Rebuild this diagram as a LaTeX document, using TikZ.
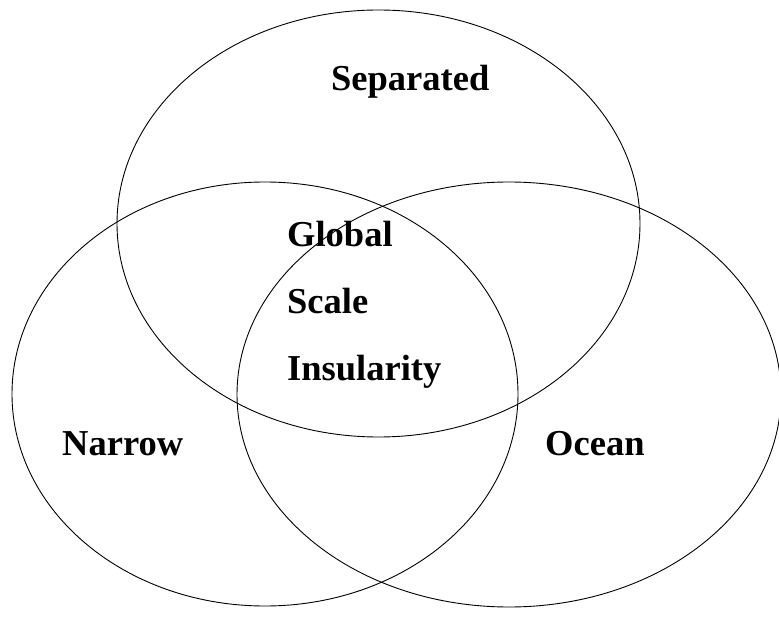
\documentclass[tikz,border=0pt]{standalone}
\usepackage{fontspec}
\setmainfont{Liberation Serif}
\usetikzlibrary{positioning}

\begin{document}
\begin{tikzpicture}[
  x=1pt, y=-1pt,
  set/.style={draw=black, line width=0.9pt},
  label/.style={font=\fontsize{36.5}{42}\selectfont\bfseries, anchor=base west, inner sep=0pt}
]
\useasboundingbox (0,0) rectangle (779,620);

% the three sets
\coordinate (top) at (378.5, 223.5);
\coordinate (left) at (265, 394);
\coordinate (right) at (509, 394.5);
\draw[set] (top) ellipse [x radius=261.5pt, y radius=213.5pt];
\draw[set] (left) ellipse [x radius=253pt, y radius=212pt];
\draw[set] (right) ellipse [x radius=272pt, y radius=212.5pt];

% labels
\node[label] (separated) at (331, 91) {Separated};
\node[label] (global) at (287, 247) {Global};
\node[label] (scale) at (287, 314) {Scale};
\node[label] (insularity) at (287, 380) {Insularity};
\node[label] (narrow) at (62, 455) {Narrow};
\node[label] (ocean) at (545, 455) {Ocean};
\end{tikzpicture}
\end{document}
